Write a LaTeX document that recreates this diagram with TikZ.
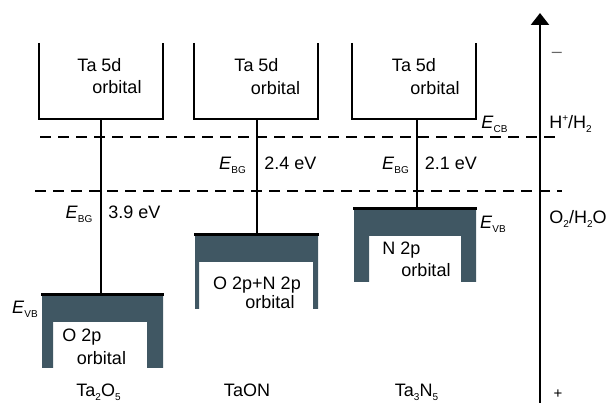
\documentclass[tikz,border=0pt]{standalone}
\usepackage{fontspec}
\setmainfont{Liberation Sans}
\usetikzlibrary{arrows.meta}
\definecolor{vbfill}{HTML}{405763}
\newcommand\lsub[1]{\raisebox{-0.45ex}{\fontsize{10}{10}\selectfont #1}}
\newcommand\lsup[1]{\raisebox{0.75ex}{\fontsize{10}{10}\selectfont #1}}
\newcommand\EE[1]{\textit{E}\lsub{#1}}
\begin{document}
\begin{tikzpicture}[x=1pt,y=-1pt,
  lbl/.style={anchor=base,inner sep=0pt,font=\fontsize{18}{21}\selectfont},
  cbbox/.style={line width=2.3pt,line join=miter},
  vbband/.style={fill=vbfill},
  vbtop/.style={line width=3pt},
  gap/.style={line width=2.3pt},
  level/.style={line width=2.8pt,dash pattern=on 11pt off 7pt},
  axis/.style={line width=2.5pt,-{Triangle[width=18pt,length=12pt]}}]
\useasboundingbox (0,0) rectangle (608,403);
% conduction bands
\draw[cbbox] (39,43) -- (39,119) -- (163,119) -- (163,43);
\draw[cbbox] (194,43) -- (194,119) -- (318,119) -- (318,43);
\draw[cbbox] (352,43) -- (352,119) -- (476,119) -- (476,43);
\coordinate (cb1) at (101,119);
\coordinate (cb2) at (257,119);
\coordinate (cb3) at (417,119);
% valence bands
\fill[vbband] (42,295) -- (163,295) -- (163,368) -- (147,368) -- (147,322) -- (53,322) -- (53,368) -- (42,368) -- cycle;
\fill[vbband] (195,235) -- (318,235) -- (318,309) -- (313,309) -- (313,262) -- (199,262) -- (199,309) -- (195,309) -- cycle;
\fill[vbband] (354,209) -- (476,209) -- (476,282) -- (461,282) -- (461,236) -- (369,236) -- (369,282) -- (354,282) -- cycle;
\coordinate (vl1) at (41,295); \coordinate (vr1) at (164,295);
\coordinate (vl2) at (194,235); \coordinate (vr2) at (319,235);
\coordinate (vl3) at (353,209); \coordinate (vr3) at (477,209);
\draw[vbtop] (vl1) -- (vr1);
\draw[vbtop] (vl2) -- (vr2);
\draw[vbtop] (vl3) -- (vr3);
\coordinate (vb1) at (101,295);
\coordinate (vb2) at (257,235);
\coordinate (vb3) at (417,209);
% band gap lines
\draw[gap] (cb1) -- (vb1);
\draw[gap] (cb2) -- (vb2);
\draw[gap] (cb3) -- (vb3);
% redox levels
\coordinate (h1) at (40,137); \coordinate (h2) at (562,137);
\coordinate (o1) at (35,191); \coordinate (o2) at (562,191);
\draw[level] (h1) -- (h2);
\draw[level] (o1) -- (o2);
% potential axis
\coordinate (ab) at (540,403); \coordinate (at) at (540,13);
\draw[axis] (ab) -- (at);
% texts
\node[lbl] (t1a) at (99.5,71.5) {Ta 5d};
\node[lbl] (t1b) at (117,93.5) {orbital};
\node[lbl] (t2a) at (256.5,71.5) {Ta 5d};
\node[lbl] (t2b) at (275.5,94.5) {orbital};
\node[lbl] (t3a) at (414,71.5) {Ta 5d};
\node[lbl] (t3b) at (435,94.5) {orbital};
\node[lbl] (ecb) at (494.5,128.5) {\EE{CB}};
\node[lbl] (hh) at (570.5,128.5) {H\lsup{+}/H\lsub{2}};
\node[lbl] (oo) at (578,223.5) {O\lsub{2}/H\lsub{2}O};
\node[lbl,text=black!60] (mn) at (557,58) {–};
\node[lbl] (pl) at (558,399) {\fontsize{15}{15}\selectfont +};
\node[lbl] (g2a) at (232.5,169.5) {\EE{BG}};
\node[lbl] (g2b) at (290.5,169.5) {2.4 eV};
\node[lbl] (g3a) at (395.5,169.5) {\EE{BG}};
\node[lbl] (g3b) at (451,169.5) {2.1 eV};
\node[lbl] (g1a) at (79,218.5) {\EE{BG}};
\node[lbl] (g1b) at (134.5,218.5) {3.9 eV};
\node[lbl] (ev1) at (25,313.5) {\EE{VB}};
\node[lbl] (ev3) at (493,228.5) {\EE{VB}};
\node[lbl] (v1a) at (82,341.5) {O 2p};
\node[lbl] (v1b) at (101.5,364.5) {orbital};
\node[lbl] (v2a) at (257,289.5) {O 2p+N 2p};
\node[lbl] (v2b) at (270,308.5) {orbital};
\node[lbl] (v3a) at (401.5,254.5) {N 2p};
\node[lbl] (v3b) at (426,276.5) {orbital};
\node[lbl] (m1) at (98.5,396.5) {Ta\lsub{2}O\lsub{5}};
\node[lbl] (m2) at (247,396.5) {TaON};
\node[lbl] (m3) at (416.5,396.5) {Ta\lsub{3}N\lsub{5}};
\end{tikzpicture}
\end{document}
